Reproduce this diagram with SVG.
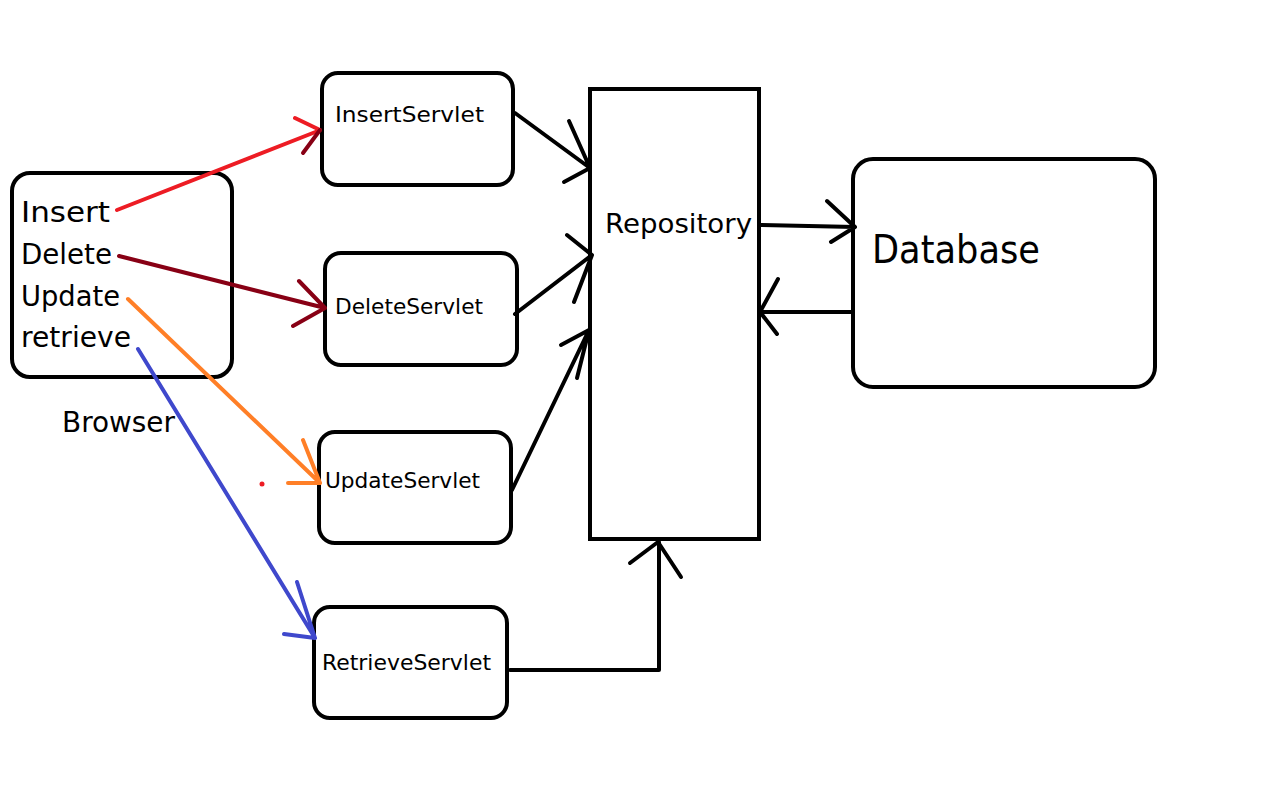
<svg xmlns="http://www.w3.org/2000/svg" width="1274" height="786" viewBox="0 0 1274 786">
<style>
.box{fill:#fff;stroke:#000;stroke-width:4}
.t{font-family:"DejaVu Sans","Liberation Sans",sans-serif;fill:#000}
.c{fill:none;stroke-width:4;stroke-linecap:round;stroke-linejoin:round}
.k{stroke:#000}
</style>
<rect width="1274" height="786" fill="#fff"/>
<g id="browser">
<rect class="box" x="12" y="173" width="220" height="204" rx="18"/>
<text class="t" x="21" y="222" font-size="28" textLength="89" lengthAdjust="spacingAndGlyphs">Insert</text>
<text class="t" x="21" y="264" font-size="28" textLength="91" lengthAdjust="spacingAndGlyphs">Delete</text>
<text class="t" x="21" y="306" font-size="28" textLength="99" lengthAdjust="spacingAndGlyphs">Update</text>
<text class="t" x="21" y="347" font-size="28" textLength="110" lengthAdjust="spacingAndGlyphs">retrieve</text>
<text class="t" x="62" y="432" font-size="28" textLength="113" lengthAdjust="spacingAndGlyphs">Browser</text>
</g>
<g id="insertServlet">
<rect class="box" x="322" y="73" width="191" height="112" rx="16"/>
<text class="t" x="335" y="122" font-size="21" textLength="149" lengthAdjust="spacingAndGlyphs">InsertServlet</text>
</g>
<g id="deleteServlet">
<rect class="box" x="325" y="253" width="192" height="112" rx="16"/>
<text class="t" x="335" y="314" font-size="21" textLength="148" lengthAdjust="spacingAndGlyphs">DeleteServlet</text>
</g>
<g id="updateServlet">
<rect class="box" x="319" y="432" width="192" height="111" rx="16"/>
<text class="t" x="325" y="488" font-size="21" textLength="155" lengthAdjust="spacingAndGlyphs">UpdateServlet</text>
</g>
<g id="retrieveServlet">
<rect class="box" x="314" y="607" width="193" height="111" rx="16"/>
<text class="t" x="322" y="670" font-size="21" textLength="169" lengthAdjust="spacingAndGlyphs">RetrieveServlet</text>
</g>
<g id="repository">
<rect class="box" x="590" y="89" width="169" height="450"/>
<text class="t" x="605" y="233" font-size="27" textLength="147" lengthAdjust="spacingAndGlyphs">Repository</text>
</g>
<g id="database">
<rect class="box" x="853" y="159" width="302" height="228" rx="20"/>
<text class="t" x="872" y="263" font-size="39" textLength="168" lengthAdjust="spacingAndGlyphs">Database</text>
</g>
<g id="connectors">
<path class="c" stroke="#ED1C24" d="M117,210 L318,131 M295,118 L320,130"/>
<path class="c" stroke="#880015" d="M303,153 L320,130"/>
<path class="c" stroke="#880015" d="M119,256 L325,308 M299,281 L325,308 L293,326"/>
<path class="c" stroke="#FF7F27" d="M128,299 L320,483 M303,440 L320,483 L288,483"/>
<circle cx="262" cy="484" r="2.5" fill="#ED1C24"/>
<path class="c" stroke="#3F48CC" d="M138,349 L315,638 M297,582 L315,638 L284,634"/>
<path class="c k" d="M515,113 L590,168 M569,121 L590,168 L564,182"/>
<path class="c k" d="M515,314 L592,255 M567,235 L592,255 L574,302"/>
<path class="c k" d="M512,490 L589,330 M561,345 L589,330 L577,378"/>
<path class="c k" d="M760,225 L855,227 M827,201 L855,227 L831,242"/>
<path class="c k" d="M852,312 L760,312 M778,279 L760,312 L777,334"/>
<path class="c k" d="M510,670 L659,670 L659,542 M630,563 L658,542 L681,577"/>
</g>
</svg>
